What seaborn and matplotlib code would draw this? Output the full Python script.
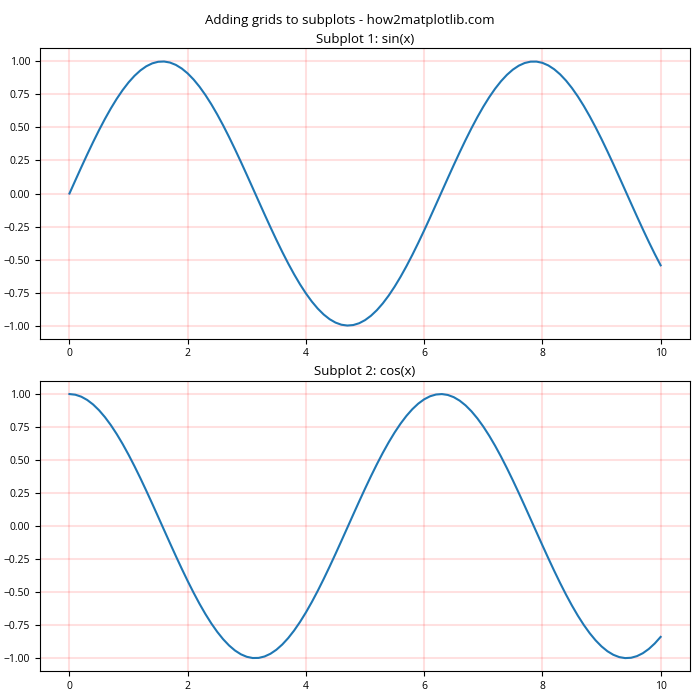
import matplotlib
matplotlib.use("Agg")
import matplotlib.pyplot as plt
import seaborn as sns
import pandas as pd

plt.rcParams['font.family'] = ['Open Sans', 'DejaVu Sans']

x_vals = [0.0, 0.1, 0.2, 0.3, 0.4, 0.5, 0.6, 0.7, 0.8, 0.9,
          1.0, 1.1, 1.2, 1.3, 1.4, 1.5, 1.6, 1.7, 1.8, 1.9,
          2.0, 2.1, 2.2, 2.3, 2.4, 2.5, 2.6, 2.7, 2.8, 2.9,
          3.0, 3.1, 3.2, 3.3, 3.4, 3.5, 3.6, 3.7, 3.8, 3.9,
          4.0, 4.1, 4.2, 4.3, 4.4, 4.5, 4.6, 4.7, 4.8, 4.9,
          5.0, 5.1, 5.2, 5.3, 5.4, 5.5, 5.6, 5.7, 5.8, 5.9,
          6.0, 6.1, 6.2, 6.3, 6.4, 6.5, 6.6, 6.7, 6.8, 6.9,
          7.0, 7.1, 7.2, 7.3, 7.4, 7.5, 7.6, 7.7, 7.8, 7.9,
          8.0, 8.1, 8.2, 8.3, 8.4, 8.5, 8.6, 8.7, 8.8, 8.9,
          9.0, 9.1, 9.2, 9.3, 9.4, 9.5, 9.6, 9.7, 9.8, 9.9,
          10.0]
sin_vals = [0.0, 0.0998, 0.1987, 0.2955, 0.3894, 0.4794, 0.5646, 0.6442, 0.7174, 0.7833,
            0.8415, 0.8912, 0.9320, 0.9636, 0.9854, 0.9975, 0.9996, 0.9917, 0.9738, 0.9463,
            0.9093, 0.8632, 0.8085, 0.7457, 0.6755, 0.5985, 0.5155, 0.4274, 0.3350, 0.2392,
            0.1411, 0.0416, -0.0584, -0.1577, -0.2555, -0.3508, -0.4425, -0.5298, -0.6119, -0.6878,
            -0.7568, -0.8183, -0.8716, -0.9162, -0.9516, -0.9775, -0.9937, -0.9999, -0.9962, -0.9825,
            -0.9589, -0.9258, -0.8835, -0.8323, -0.7728, -0.7055, -0.6313, -0.5507, -0.4646, -0.3739,
            -0.2794, -0.1822, -0.0831, 0.0168, 0.1165, 0.2151, 0.3115, 0.4048, 0.4941, 0.5784,
            0.6570, 0.7290, 0.7937, 0.8504, 0.8987, 0.9380, 0.9679, 0.9882, 0.9985, 0.9989,
            0.9894, 0.9699, 0.9407, 0.9022, 0.8546, 0.7985, 0.7344, 0.6630, 0.5849, 0.5010,
            0.4121, 0.3190, 0.2229, 0.1245, 0.0248, -0.0752, -0.1743, -0.2718, -0.3665, -0.4575,
            -0.5440]
cos_vals = [1.0, 0.9950, 0.9801, 0.9553, 0.9211, 0.8776, 0.8253, 0.7648, 0.6967, 0.6216,
            0.5403, 0.4536, 0.3624, 0.2675, 0.1700, 0.0707, -0.0292, -0.1288, -0.2272, -0.3233,
            -0.4161, -0.5048, -0.5885, -0.6663, -0.7374, -0.8011, -0.8569, -0.9041, -0.9422, -0.9710,
            -0.9900, -0.9991, -0.9983, -0.9875, -0.9668, -0.9365, -0.8968, -0.8481, -0.7910, -0.7259,
            -0.6536, -0.5748, -0.4903, -0.4008, -0.3073, -0.2108, -0.1122, -0.0124, 0.0875, 0.1865,
            0.2837, 0.3780, 0.4685, 0.5544, 0.6347, 0.7087, 0.7756, 0.8347, 0.8855, 0.9275,
            0.9602, 0.9833, 0.9965, 0.9999, 0.9932, 0.9766, 0.9502, 0.9144, 0.8694, 0.8157,
            0.7539, 0.6845, 0.6084, 0.5261, 0.4385, 0.3466, 0.2513, 0.1534, 0.0540, -0.0460,
            -0.1455, -0.2435, -0.3392, -0.4314, -0.5193, -0.6020, -0.6787, -0.7486, -0.8111, -0.8654,
            -0.9111, -0.9477, -0.9748, -0.9922, -0.9997, -0.9972, -0.9847, -0.9624, -0.9304, -0.8892,
            -0.8391]

titles = ["Subplot 1: sin(x)", "Subplot 2: cos(x)"]
suptitle = "Adding grids to subplots - how2matplotlib.com"

df = pd.DataFrame({"x": x_vals, "sin": sin_vals, "cos": cos_vals})

fig, axes = plt.subplots(2, 1, figsize=(7, 7), dpi=100)
for ax, col, title in zip(axes, ["sin", "cos"], titles):
    sns.lineplot(data=df, x="x", y=col, ax=ax, color="#1f77b4", linewidth=1.5)
    ax.set_title(title, fontsize=9.5, pad=4)
    ax.grid(True, color="red", alpha=0.12, linewidth=1.5)
    ax.set_xlabel("")
    ax.set_ylabel("")
    ax.tick_params(labelsize=7.5)
fig.suptitle(suptitle, fontsize=9.5, y=0.971, va="center")
fig.subplots_adjust(left=0.057, right=0.986, top=0.931, bottom=0.041, hspace=0.145)
fig.savefig("out.png", dpi=100)
